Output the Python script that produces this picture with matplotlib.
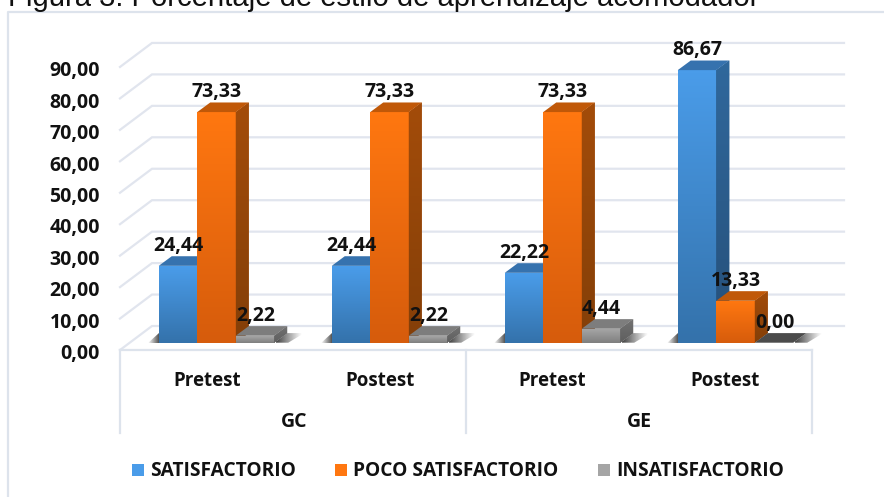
import numpy as np
import matplotlib
matplotlib.use("Agg")
import matplotlib.pyplot as plt
from matplotlib.patches import Polygon
from matplotlib.colors import LinearSegmentedColormap

tests = ["Pretest", "Postest", "Pretest", "Postest"]
groups = ["GC", "GE"]
series = ["SATISFACTORIO", "POCO SATISFACTORIO", "INSATISFACTORIO"]
satisfactorio = [24.44, 24.44, 22.22, 86.67]
poco = [73.33, 73.33, 73.33, 13.33]
insatisfactorio = [2.22, 2.22, 4.44, 0.00]
yticks = [0, 10, 20, 30, 40, 50, 60, 70, 80, 90]
title = "Figura 3. Porcentaje de estilo de aprendizaje acomodador"

W, H = 884, 497
PXY = 3.145      # pixels per value unit
PXX = 173.0      # pixels per category
X0, Y0 = 216.5, 342.7   # pixel of category 0 / value 0


def ux(px):
    return px / PXX


def uy(px):
    return px / PXY


FONT = "Open Sans"
FS = 14.0
TEXT_DROP = uy(2.8)     # centre the digits, not the bbox that includes the comma


def lab(txt, x, y, **kw):
    ax.text(x, y - TEXT_DROP, txt, fontfamily=FONT, fontweight="bold", color="#111111",
            ha=kw.pop("ha", "center"), va="center", fontsize=kw.pop("fontsize", FS), **kw)


BW = ux(38.5)
DX, DY = ux(13), uy(9.6)
fig = plt.figure(figsize=(W / 100, H / 100), dpi=100, facecolor="white")
ax = fig.add_axes([0, 0, 1, 1])
xlim = (-X0 / PXX, (W - X0) / PXX)
ylim = ((Y0 - H) / PXY, Y0 / PXY)
ax.set_xlim(xlim)
ax.set_ylim(ylim)
ax.axis("off")

# chart frame
GRID = "#e1e5ee"
FRAME = "#dde3ec"
fx0 = xlim[0] + ux(8)
fy1 = ylim[1] - uy(11.5)
ax.plot([fx0, fx0, xlim[1]], [ylim[0], fy1, fy1], color=FRAME, lw=1.6, zorder=1)

# walls: grid on back wall plus floor-side diagonals
front_l = xlim[0] + ux(120)
back_l = xlim[0] + ux(152)
back_r = xlim[0] + ux(844)
fy = uy(-7.3)
by = uy(16.7)
for v in yticks:
    ax.plot([front_l, back_l, back_r], [v + fy, v + by, v + by], color=GRID, lw=1.6,
            zorder=1, solid_joinstyle="miter")
    lab(f"{v:.2f}".replace(".", ","), xlim[0] + ux(100), v + fy - uy(1.4), ha="right")

# category frame
line_bot = uy(-90.5)
right = xlim[0] + ux(812)
mid = xlim[0] + ux(465.5)
ax.plot([front_l, right], [fy, fy], color=FRAME, lw=1.6, zorder=1)
for xx in (front_l, mid, right):
    ax.plot([xx, xx], [fy, line_bot], color=FRAME, lw=1.6, zorder=1)
for i, t in enumerate(tests):
    lab(t, i - ux(9.5) + (ux(-1) if i >= 2 else 0), uy(-35), fontsize=13.5)
lab(groups[0], 0.5 - ux(9), uy(-76.5))
lab(groups[1], 2.5 - ux(10), uy(-76.5))


def gradient(top, bottom, extent, clip=None, z=3):
    cm = LinearSegmentedColormap.from_list("g", [top, bottom])
    im = ax.imshow(np.linspace(0, 1, 64)[:, None], cmap=cm, extent=extent, aspect="auto",
                   origin="upper", zorder=z, interpolation="bilinear")
    if clip is not None:
        im.set_clip_path(clip)
    return im


styles = [
    dict(f=("#4a9ce9", "#3472ab"), s=("#30689c", "#26507a"), t="#3672ae"),
    dict(f=("#ff7710", "#d65c0c"), s=("#a34c0a", "#843f08"), t="#c05808"),
    dict(f=("#a5a5a5", "#7f7f7f"), s=("#727272", "#5e5e5e"), t="#7d7d7d"),
]
values = [satisfactorio, poco, insatisfactorio]
ZS = 10

for c in range(4):
    left = c - 1.5 * BW
    rr = left + 3 * BW
    # left floor shadow
    sh = Polygon([(left - ux(11), 0), (left, 0), (left, DY)], closed=True, fc="none", ec="none",
                 transform=ax.transData)
    ax.add_patch(sh)
    cm = LinearSegmentedColormap.from_list("s", ["#ffffff", "#555555"])
    im = ax.imshow(np.linspace(0, 1, 32)[None, :], cmap=cm, extent=(left - ux(11), left, 0, DY),
                   aspect="auto", zorder=2, interpolation="bilinear")
    im.set_clip_path(sh)
    # right floor shadow
    sh2 = Polygon([(rr, 0), (rr + ux(14), 0), (rr + DX + ux(17), DY), (rr + DX, DY)], closed=True,
                  fc="none", ec="none", transform=ax.transData)
    ax.add_patch(sh2)
    cm2 = LinearSegmentedColormap.from_list("s2", ["#444444", "#ffffff"])
    im2 = ax.imshow(np.linspace(0, 1, 32)[None, :], cmap=cm2,
                    extent=(rr + ux(2), rr + DX + ux(15), 0, DY),
                    aspect="auto", zorder=2, interpolation="bilinear")
    im2.set_clip_path(sh2)

for c in range(4):
    for s in range(3):
        v = values[s][c]
        st = styles[s]
        x0 = c - 1.5 * BW + s * BW
        x1 = x0 + BW
        z = ZS + c * 10 + s * 3
        ax.bar(x0 + BW / 2, v, BW, color=st["f"][0], linewidth=0, zorder=z,
               label=series[s] if c == 0 else None)
        if v > 0:
            gradient(st["f"][0], st["f"][1], (x0, x1, 0, v), z=z + 0.1)
            side = Polygon([(x1, 0), (x1 + DX, DY), (x1 + DX, v + DY), (x1, v)], closed=True,
                           fc=st["s"][0], ec="none", zorder=z + 0.2, transform=ax.transData)
            ax.add_patch(side)
            gradient(st["s"][0], st["s"][1], (x1, x1 + DX, 0, v + DY), clip=side, z=z + 0.3)
        top_c = st["t"] if v > 0 else "#4b4b4b"
        ax.add_patch(Polygon([(x0, v), (x1, v), (x1 + DX, v + DY), (x0 + DX, v + DY)], closed=True,
                             fc=top_c, ec="none", zorder=z + 0.4))
        lab(f"{v:.2f}".replace(".", ","), x0 + BW / 2 + ux(0.5), v + uy(22.5), zorder=100)

ax.set_xlim(xlim)
ax.set_ylim(ylim)

# legend
leg = ax.legend(loc="center", bbox_to_anchor=(458 / W, 1 - 471.5 / H), bbox_transform=ax.transAxes,
                ncol=3, frameon=False, handlelength=0.63, handleheight=0.63, handletextpad=0.32,
                columnspacing=2.05, borderpad=0, labelspacing=0,
                prop=dict(family=FONT, weight="bold", size=13.75), labelcolor="#111111")
leg.set_zorder(100)

# title, cropped by the top edge as in the source image
ax.text(xlim[0] + ux(8), ylim[1] - uy(5.5), title, fontfamily="Liberation Sans", fontsize=21.1,
        color="#111111", ha="left", va="baseline", zorder=200)

fig.savefig("out.png", dpi=100)
